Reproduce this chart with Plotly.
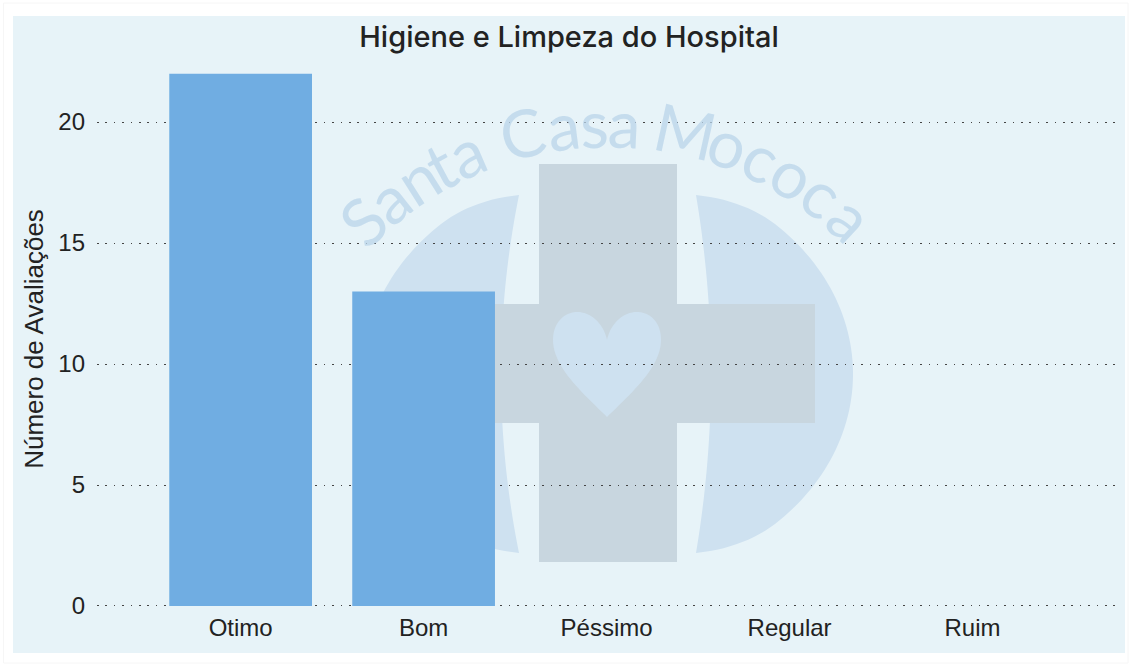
import numpy as np
import plotly.graph_objects as go

W, H = 1130, 666
categories = ["Otimo", "Bom", "Péssimo", "Regular", "Ruim"]
evaluations = [22, 13, 0, 0, 0]
y_ticks = [0, 5, 10, 15, 20]
chart_title = "Higiene e Limpeza do Hospital"
y_title = "Número de Avaliações"
watermark = "Santa Casa Mococa"
letter_widths = [.5, .68, .58, .34, .68, .28, .8, .68, .39, .68, .28, .9, .65, .61, .65, .61, .68]

BAR = "#70ade2"
PANEL = "#e7f3f8"
CROSS = "#c8d6df"
LOGO = "#cee1f0"
L, R, T, B = 97, 12, 70, 58


def to_dom(xp, yp):
    # decoration positions in window pixels -> plot-area (domain) fractions
    return (xp - L) / (W - L - R), (H - B - yp) / (H - T - B)


def poly(points, color):
    pts = [to_dom(x, y) for x, y in points]
    d = "M " + " L ".join(f"{x:.5f} {y:.5f}" for x, y in pts) + " Z"
    return dict(type="path", path=d, xref="paper", yref="paper", fillcolor=color,
                line_width=0, layer="below")


def rect(x0, y0, x1, y1, color):
    return poly([(x0, y0), (x1, y0), (x1, y1), (x0, y1)], color)


def segment(sign, tx, bulge):
    # one side of the round logo: outer ellipse, soft shoulders, concave inner edge
    cx, cy, a, b = 608, 374, 245, 205
    t0 = np.arcsin(150 / b)
    ts = np.linspace(-t0, t0, 60)
    outer = [(cx + sign * a * np.cos(t), cy + b * np.sin(t)) for t in ts]

    def shoulder(end, direction):
        p0 = np.array([cx + sign * tx, cy + direction * 179.0])
        p1 = np.array([cx + sign * (tx + 47), cy + direction * 174.0])
        p2 = np.array(end)
        return [tuple((1 - u) ** 2 * p0 + 2 * (1 - u) * u * p1 + u ** 2 * p2)
                for u in np.linspace(0, 1, 14)]

    top = shoulder(outer[0], -1)
    bottom = shoulder(outer[-1], 1)[::-1]
    ys = np.linspace(cy + 179, cy - 179, 40)
    inner = [(cx + sign * (tx + bulge * (1 - ((y - cy) / 179) ** 2)), y) for y in ys]
    return poly(top + outer + bottom + inner, LOGO)


def heart():
    def bez(p0, p1, p2, p3, n=24):
        t = np.linspace(0, 1, n)[:, None]
        p0, p1, p2, p3 = map(np.array, (p0, p1, p2, p3))
        return ((1 - t) ** 3 * p0 + 3 * (1 - t) ** 2 * t * p1 + 3 * (1 - t) * t ** 2 * p2 + t ** 3 * p3).tolist()
    pts = (bez((607, 417), (585, 395), (553, 368), (553, 340)) +
           bez((553, 340), (553, 322), (565, 312), (577, 312)) +
           bez((577, 312), (592, 312), (604, 325), (607, 340)) +
           bez((607, 340), (610, 325), (622, 312), (637, 312)) +
           bez((637, 312), (650, 312), (661, 322), (661, 340)) +
           bez((661, 340), (661, 368), (629, 395), (607, 417)))
    return poly([tuple(p) for p in pts], LOGO)


x0o, y0o = to_dom(3.5, 3)
x1o, y1o = to_dom(1128, 663)
shapes = [
    dict(type="rect", x0=x0o, y0=y0o, x1=x1o, y1=y1o, xref="paper", yref="paper",
         line=dict(color="#f6f6f6", width=1), fillcolor="white", layer="below"),
    rect(13, 16, 1125, 653, PANEL),
    segment(1, 88, 15),
    segment(-1, 89, 18),
    rect(539, 164, 677, 562, CROSS),
    rect(401, 304, 815, 423, CROSS),
    heart(),
]

annotations = []
k, r, cx, cy = 9.2, 357, 609, 479
edges = np.cumsum([0] + letter_widths)
mid = edges[-1] / 2
for ch, e, w in zip(watermark, edges[:-1], letter_widths):
    if ch == " ":
        continue
    ang = (e + w / 2 - mid) * k
    xp = cx + r * np.sin(np.radians(ang))
    yp = cy - r * np.cos(np.radians(ang))
    xa, ya = to_dom(xp, yp)
    annotations.append(dict(text=ch, x=xa, y=ya, xref="paper", yref="paper", showarrow=False,
                            textangle=ang, xanchor="center", yanchor="middle",
                            font=dict(family="Lato", size=66, color="rgba(185,212,233,0.75)")))

fig = go.Figure(go.Bar(x=categories, y=evaluations, width=0.78,
                       marker=dict(color=BAR, line=dict(width=0))))
fig.update_layout(
    width=W, height=H, autosize=False,
    margin=dict(l=L, r=R, t=T, b=B, pad=0),
    paper_bgcolor="white", plot_bgcolor="rgba(0,0,0,0)",
    showlegend=False, shapes=shapes, annotations=annotations,
    title=dict(text=chart_title, x=569 / W, xanchor="center", y=1 - 37 / H, yanchor="middle",
               font=dict(family="Inter", size=29, weight=500, color="#222222")),
    font=dict(family="Liberation Sans", color="#222222"),
)
fig.update_xaxes(range=[-0.785, 4.795], showgrid=False, zeroline=False, showline=False, ticks="",
                 tickfont=dict(size=24), ticklabelstandoff=3)
fig.update_yaxes(range=[-0.083, 22.15], tickvals=y_ticks, showgrid=True, gridcolor="#444444",
                 griddash="1.5px,6.9px", gridwidth=1, zeroline=False, showline=False, ticks="",
                 tickfont=dict(size=24), ticklabelstandoff=11,
                 title=dict(text=y_title, font=dict(size=26), standoff=7))
fig.write_html("out.html", post_script="document.body.style.margin='0';document.body.style.overflow='hidden';",
               config=dict(displayModeBar=False))
